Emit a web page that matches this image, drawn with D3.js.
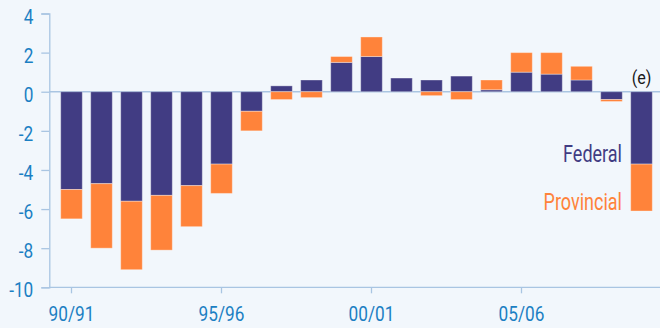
<!DOCTYPE html>
<html><head><meta charset="utf-8">
<script src="https://cdn.jsdelivr.net/npm/d3@7"></script>
<style>
html,body{margin:0;padding:0;background:#f2f7fc;}
svg{display:block;}
text{font-family:"Roboto","Noto Sans",sans-serif;}
</style></head>
<body><svg id="c" width="660" height="328"></svg>
<script>
const years = ["90/91","91/92","92/93","93/94","94/95","95/96","96/97","97/98","98/99","99/00",
               "00/01","01/02","02/03","03/04","04/05","05/06","06/07","07/08","08/09","09/10"];
const federal = [-5.0,-4.7,-5.6,-5.3,-4.8,-3.7,-1.0,0.3,0.6,1.5,1.8,0.7,0.6,0.8,0.1,1.0,0.9,0.6,-0.4,-3.7];
const provincial = [-1.5,-3.3,-3.5,-2.8,-2.1,-1.5,-1.0,-0.4,-0.3,0.3,1.0,0.0,-0.2,-0.4,0.5,1.0,1.1,0.7,-0.1,-2.4];
const yTicks = [4,2,0,-2,-4,-6,-8,-10];
const xLabels = ["90/91","95/96","00/01","05/06"];
const seriesNames = ["Federal","Provincial"];
const colors = {Federal:"#413c83", Provincial:"#ff833a"};

const svg = d3.select("#c");
const x = d3.scaleBand().domain(years).range([56.5,656.5]).paddingInner(0.28).paddingOuter(0.14);
const y = d3.scaleLinear().domain([-10,4]).range([287.3,13.5]);
const axisColor = "#a9c5e2";
const labelColor = "#1b7fc3";

// condense text horizontally (reference uses a condensed face)
function condense(sel, f){
  sel.each(function(){
    const w = this.getComputedTextLength();
    d3.select(this).attr("textLength", w*f).attr("lengthAdjust","spacingAndGlyphs");
  });
}

const table = years.map((yr,i)=>({year:yr, Federal:federal[i], Provincial:provincial[i]}));
const stack = d3.stack().keys(seriesNames).offset(d3.stackOffsetDiverging)(table);

// y axis
const yAxis = svg.append("g").attr("transform","translate(49.3,0)")
  .call(d3.axisLeft(y).tickValues(yTicks).tickSize(8).tickPadding(8).tickFormat(d=>d));
yAxis.select(".domain").attr("stroke",axisColor).attr("stroke-width",1.3);
yAxis.selectAll(".tick line").attr("stroke",axisColor).attr("stroke-width",1.3);
yAxis.selectAll(".tick text").attr("fill",labelColor).attr("font-size",21).attr("dy",0).attr("y",9.5)
  .call(condense,0.82);

// zero line
svg.append("line").attr("x1",49.3).attr("x2",660).attr("y1",y(0)).attr("y2",y(0))
  .attr("stroke",axisColor).attr("stroke-width",1.3);

// bars
svg.append("g").selectAll("g").data(stack).join("g")
  .attr("fill",d=>colors[d.key])
  .selectAll("rect").data(d=>d).join("rect")
  .attr("x",d=>x(d.data.year))
  .attr("width",x.bandwidth())
  .attr("y",d=>y(Math.max(d[0],d[1])))
  .attr("height",d=>Math.abs(y(d[0])-y(d[1])))
  .attr("stroke","rgba(255,255,255,0.35)").attr("stroke-width",1);

// x axis
const xAxis = svg.append("g").attr("transform",`translate(0,${y(-10)})`)
  .call(d3.axisBottom(x).tickValues(xLabels).tickSize(6).tickPadding(10).tickSizeOuter(0));
xAxis.select(".domain").attr("d",`M49.3,0H660`).attr("stroke",axisColor).attr("stroke-width",1.3);
xAxis.selectAll(".tick line").attr("stroke",axisColor).attr("stroke-width",1.3);
xAxis.selectAll(".tick text").attr("fill",labelColor).attr("font-size",21).attr("dy",0).attr("y",33.5)
  .call(condense,0.82);

// labels
const last = years[years.length-1];
svg.append("text").attr("x",x(last)+x.bandwidth()/2).attr("y",y(0)-8)
  .attr("text-anchor","middle").attr("font-size",19).attr("fill","#1a1a1a").text("(e)").call(condense,0.85);
svg.append("text").attr("x",622).attr("y",162.3).attr("text-anchor","end")
  .attr("font-size",24).attr("fill",colors.Federal).text("Federal").call(condense,0.75);
svg.append("text").attr("x",622).attr("y",210).attr("text-anchor","end")
  .attr("font-size",24).attr("fill",colors.Provincial).text("Provincial").call(condense,0.75);
</script></body></html>
